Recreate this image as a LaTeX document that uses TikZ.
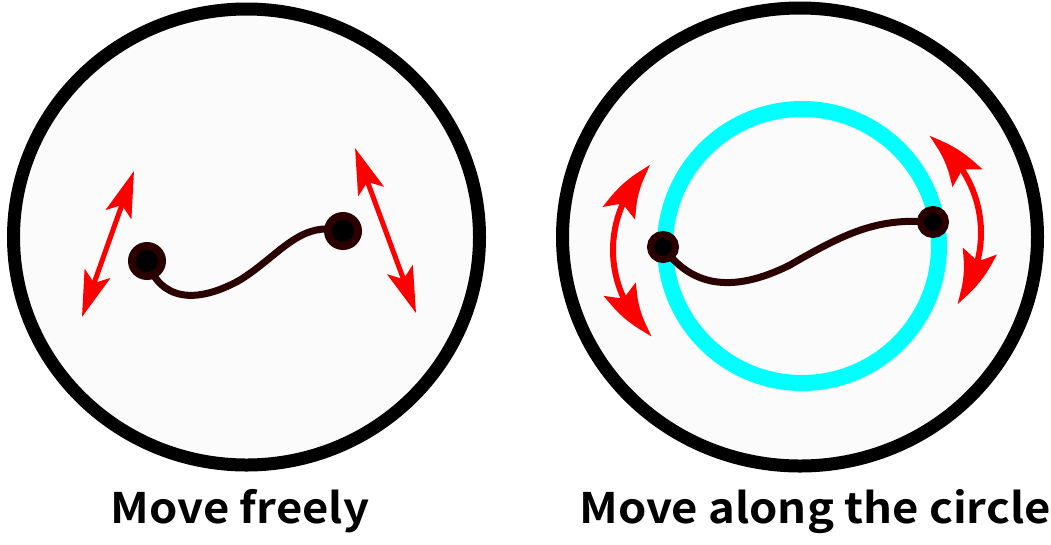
\documentclass[tikz,border=0pt]{standalone}
\usepackage{fontspec}
\newfontfamily\labfont{Noto Sans CJK JP}[BoldFont={Noto Sans CJK JP Bold}, BoldFeatures={FakeStretch=1.08}, FakeStretch=1.08]
\usetikzlibrary{arrows.meta,bending}
\definecolor{ring}{HTML}{2B0000}
\definecolor{panelfill}{HTML}{FBFBFB}
\definecolor{track}{HTML}{00FFFF}
\tikzset{
  panel/.style={draw=black, line width=13pt, fill=panelfill},
  wire/.style={draw=ring, line width=7pt},
  bigdot/.style={circle, draw=ring, fill=black, line width=8pt, minimum size=30pt, inner sep=0pt},
  smalldot/.style={circle, draw=ring, fill=black, line width=7pt, minimum size=25pt, inner sep=0pt},
  straightarr/.style={draw=red, line width=5pt, {Stealth[length=46pt,width=27pt,inset=10pt]}-{Stealth[length=46pt,width=27pt,inset=10pt]}},
  bentarr/.style={draw=red, line width=6pt, {Stealth[length=58pt,width=34pt,inset=10pt,bend]}-{Stealth[length=58pt,width=34pt,inset=10pt,bend]}},
  caption/.style={anchor=base, font=\labfont\bfseries\fontsize{42}{50}\selectfont, inner sep=0pt}
}
\begin{document}
\begin{tikzpicture}[x=1pt,y=-1pt]
\useasboundingbox (0,0) rectangle (1051,544);
% panels
\draw[panel] (246.5,237) ellipse [x radius=233, y radius=228];
\draw[panel] (800,237) ellipse [x radius=237.5, y radius=229];
% track
\draw[track, line width=16pt] (802,246) circle [radius=137];

% left panel
\coordinate (p1) at (147,261);
\coordinate (p2) at (343,231);
\draw[wire] (p1) .. controls (160,300) and (195,305) .. (240,280) .. controls (280,255) and (300,220) .. (p2);
\node[bigdot] (d1) at (p1) {};
\node[bigdot] (d2) at (p2) {};
\coordinate (a1s) at (82,317);
\coordinate (a1e) at (134,171);
\coordinate (a2s) at (355,148);
\coordinate (a2e) at (416,313);
\draw[straightarr] (a1s) -- (a1e);
\draw[straightarr] (a2s) -- (a2e);

% right panel
\coordinate (q1) at (663,247);
\coordinate (q2) at (933,222);
\draw[wire] (q1) .. controls (690,285) and (730,295) .. (790,265) .. controls (850,230) and (880,218) .. (q2);
\node[smalldot] (e1) at (q1) {};
\node[smalldot] (e2) at (q2) {};
\coordinate (lc) at (727,250);
\coordinate (rc) at (865,233);
\draw[bentarr] (lc) ++(131:114) arc[start angle=131, end angle=228, radius=114];
\draw[bentarr] (rc) ++(-56.6:116) arc[start angle=-56.6, end angle=37.7, radius=116];

% captions
\node[caption] (t1) at (240,523) {Move freely};
\node[caption] (t2) at (815,523) {Move along the circle};
\end{tikzpicture}
\end{document}
